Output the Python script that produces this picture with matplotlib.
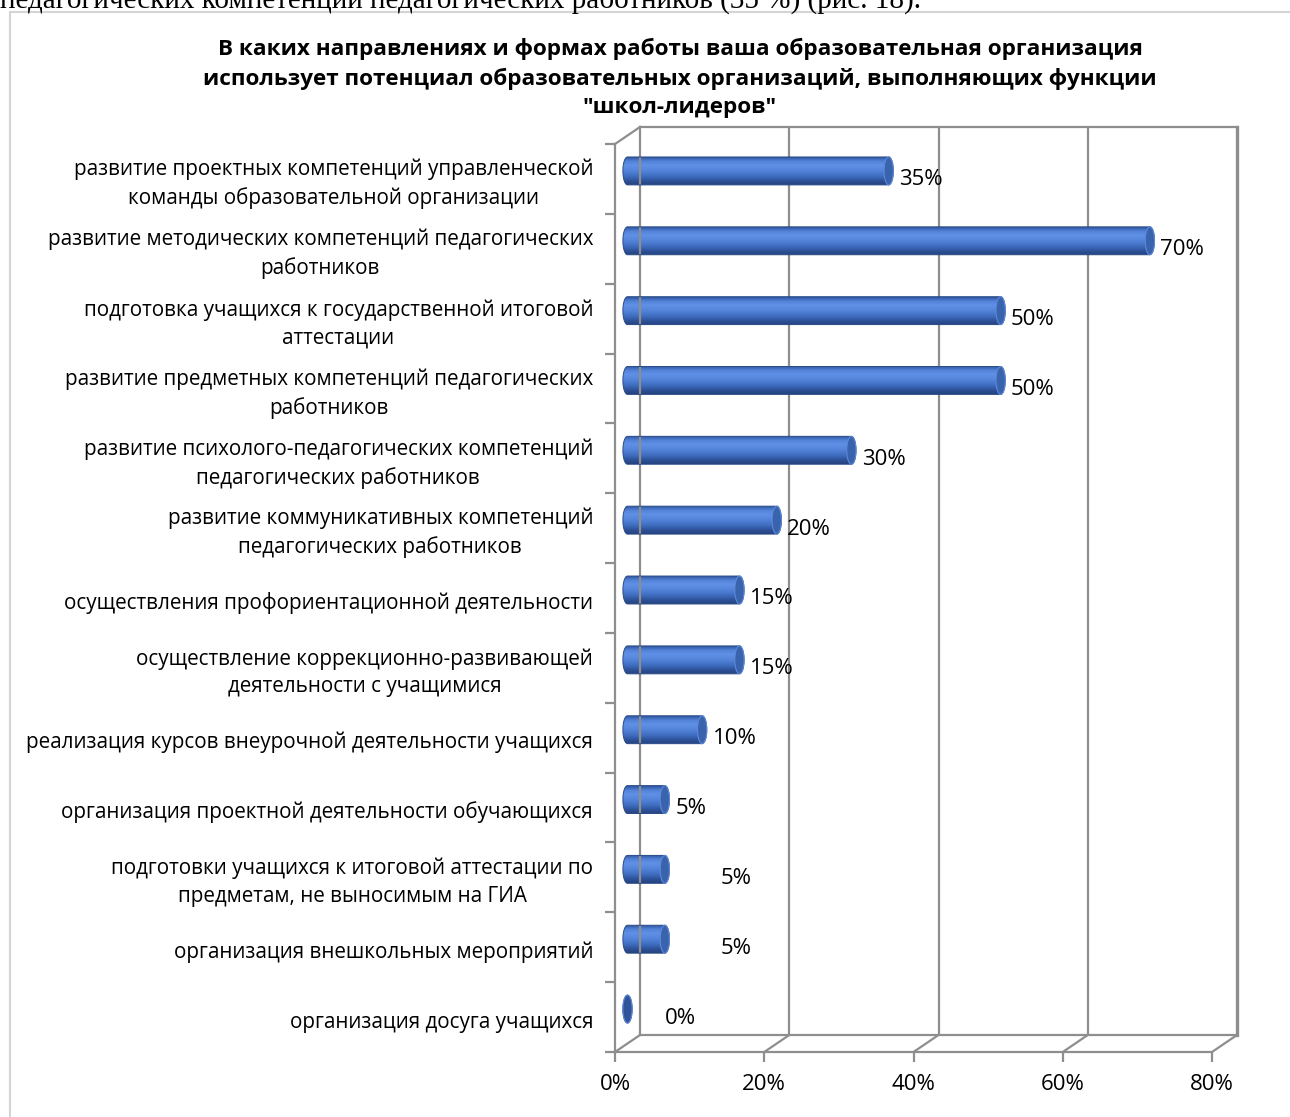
import numpy as np
import matplotlib
matplotlib.use('Agg')
import matplotlib.pyplot as plt
from matplotlib import transforms
from matplotlib.patches import Polygon, Ellipse, Rectangle
from matplotlib.colors import LinearSegmentedColormap

plt.rcParams['font.family'] = ['Open Sans', 'DejaVu Sans']

# data
categories = [
    'развитие проектных компетенций управленческой\nкоманды образовательной организации',
    'развитие методических компетенций педагогических\nработников',
    'подготовка учащихся к государственной итоговой\nаттестации',
    'развитие предметных компетенций педагогических\nработников',
    'развитие психолого-педагогических компетенций\nпедагогических работников',
    'развитие коммуникативных компетенций\nпедагогических работников',
    'осуществления профориентационной деятельности',
    'осуществление коррекционно-развивающей\nдеятельности с учащимися',
    'реализация курсов внеурочной деятельности учащихся',
    'организация проектной деятельности обучающихся',
    'подготовки учащихся к итоговой аттестации по\nпредметам, не выносимым на ГИА',
    'организация внешкольных мероприятий',
    'организация досуга учащихся',
]
values = [35, 70, 50, 50, 30, 20, 15, 15, 10, 5, 5, 5, 0]
xticks = [0, 20, 40, 60, 80]
xtick_labels = ['0%', '20%', '40%', '60%', '80%']
label_dx = [0, 0, 0, 0, 0, 0, 0, 0, 0, 0, 45, 45, 27]  # px nudges of value labels

title = ('В каких направлениях и формах работы ваша образовательная организация\n'
         'использует потенциал образовательных организаций, выполняющих функции\n'
         '"школ-лидеров"')
top_text = 'педагогических компетенций педагогических работников (35 %) (рис. 18).'

W, H = 1290, 1117
fig = plt.figure(figsize=(W / 100, H / 100), dpi=100)
fig.patch.set_facecolor('white')

# outer frame of the chart
fig.add_artist(Rectangle((10 / W, -0.01), 1.0, 1 - 12 / H + 0.01, transform=fig.transFigure,
                         facecolor='none', edgecolor='#d4d4d4', lw=1.5))

n = len(values)
gray = '#8e8e8e'
ax = fig.add_axes([640 / W, 1 - 1035 / H, (1237 - 640) / W, (1035 - 127) / H])
ax.set_facecolor('none')
for s in ax.spines.values():
    s.set_color(gray)
    s.set_linewidth(1.6)
ax.spines['right'].set_linewidth(2.4)
ax.set_xticks([20, 40, 60])
ax.set_yticks([])
ax.tick_params(length=0, labelbottom=False)
ax.grid(axis='x', color=gray, lw=1.6)
ax.set_axisbelow(True)

dpi_t = fig.dpi_scale_trans
mid = ax.transData + transforms.ScaledTranslation(-12.5 / 100, -9 / 100, dpi_t)
front = ax.transData + transforms.ScaledTranslation(-25 / 100, -17 / 100, dpi_t)

ax.set_xlim(0, 80)
ax.set_ylim(n - 0.5, -0.5)

# cylinders
cmap = LinearSegmentedColormap.from_list(
    'cyl', ['#3058a2', '#5283d8', '#5f90e6', '#5889df', '#4a7bd0', '#3d69bb', '#2e5298', '#24427f'])
grad = np.linspace(0, 1, 64).reshape(-1, 1)
r, h = 0.62, 0.40
for i, v in enumerate(values):
    t1 = np.linspace(np.pi / 2, 3 * np.pi / 2, 40)
    t2 = np.linspace(-np.pi / 2, np.pi / 2, 40)
    xs = np.concatenate([r * np.cos(t1), v + r * np.cos(t2)])
    ys = np.concatenate([i - h / 2 * np.sin(t1), i - h / 2 * np.sin(t2)])
    body = Polygon(np.column_stack([xs, ys]), closed=True, transform=mid,
                   facecolor='none', edgecolor='#2a4a86', lw=0.7, zorder=3, clip_on=False)
    ax.add_patch(body)
    im = ax.imshow(grad, cmap=cmap, extent=[-r, v + r, i + h / 2, i - h / 2],
                   aspect='auto', transform=mid, zorder=2, interpolation='bilinear')
    im.set_clip_path(body)
    im.set_clip_box(fig.bbox)
    cap_fc = '#2f5499' if v == 0 else '#3a63ae'
    ax.add_patch(Ellipse((v, i), 2 * r, h, transform=mid, facecolor=cap_fc,
                         edgecolor='#5d88d6', lw=0.8, zorder=4, clip_on=False))
    lt = ax.transData + transforms.ScaledTranslation((label_dx[i] - 2) / 100, -18 / 100, dpi_t)
    ax.text(v, i, f'{v}%', transform=lt, ha='left', va='center', fontsize=16, color='black')
    ct = ax.transData + transforms.ScaledTranslation(-47 / 100, -22 / 100, dpi_t)
    ax.text(0, i, categories[i], transform=ct, ha='right', va='center',
            multialignment='center', fontsize=14.9, color='black', linespacing=1.42)

ax.set_xlim(0, 80)
ax.set_ylim(n - 0.5, -0.5)

# front axis, floor and left wall
inv = ax.transData.inverted()
def to_back(p):
    return inv.transform(front.transform(p))

bottom = n - 0.5
ax.plot([0, 80], [bottom, bottom], transform=front, color=gray, lw=1.6, clip_on=False)
ax.plot([0, 0], [-0.5, bottom], transform=front, color=gray, lw=1.6, clip_on=False)
ax.plot(xticks, [bottom] * len(xticks), transform=front, ls='none', marker=3,
        ms=7, mew=1.6, color=gray, clip_on=False)
ax.plot([0] * (n + 1), np.arange(n + 1) - 0.5, transform=front, ls='none', marker=0,
        ms=7, mew=1.6, color=gray, clip_on=False)
for x in xticks:
    fx, fy = to_back((x, bottom))
    ax.plot([x, fx], [bottom, fy], color=gray, lw=1.6, clip_on=False)
fx, fy = to_back((0, -0.5))
ax.plot([0, fx], [-0.5, fy], color=gray, lw=1.6, clip_on=False)

tt = front + transforms.ScaledTranslation(0, -33 / 100, dpi_t)
for x, lab in zip(xticks, xtick_labels):
    ax.text(x, bottom, lab, transform=tt, ha='center', va='center', fontsize=16)

fig.text(680 / W, 1 - 38 / H, title, ha='center', va='top', fontsize=16.2,
         fontweight='bold', linespacing=1.45)
fig.text(0.0, 1 - 8 / H, top_text, ha='left', va='baseline', fontsize=21,
         family=['Liberation Serif', 'DejaVu Serif'])

fig.savefig('out.png', dpi=100)
